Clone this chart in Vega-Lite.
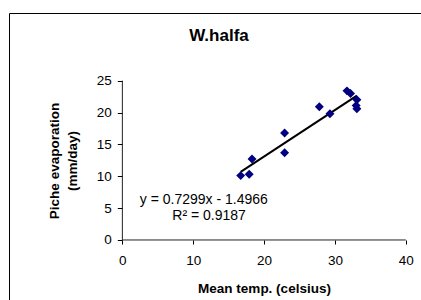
{
  "$schema": "https://vega.github.io/schema/vega-lite/v6.json",
  "width": 412,
  "height": 287,
  "autosize": {"type": "none"},
  "padding": {"left": 9, "top": 13, "right": 0, "bottom": 0},
  "background": "white",
  "config": {"font": "Liberation Sans", "view": {"stroke": "black", "strokeWidth": 1}},
  "title": {"text": "W.halfa", "fontSize": 17, "fontWeight": "bold", "anchor": "middle", "frame": "group", "offset": -45, "baseline": "alphabetic", "dx": 4, "color": "black"},
  "datasets": {
    "obs": [
      {"temp": 16.7, "evap": 10.1},
      {"temp": 17.9, "evap": 10.3},
      {"temp": 18.3, "evap": 12.7},
      {"temp": 22.9, "evap": 16.8},
      {"temp": 22.9, "evap": 13.7},
      {"temp": 27.8, "evap": 20.9},
      {"temp": 29.3, "evap": 19.8},
      {"temp": 31.7, "evap": 23.4},
      {"temp": 32.2, "evap": 23.0},
      {"temp": 33.1, "evap": 22.0},
      {"temp": 33.0, "evap": 21.1},
      {"temp": 33.1, "evap": 20.6}
    ],
    "trend": [
      {"temp": 16.7, "evap": 10.7},
      {"temp": 33.1, "evap": 22.66}
    ]
  },
  "layer": [
    {
      "data": {"values": [{}]},
      "mark": {"type": "rule", "color": "#222222", "strokeWidth": 1},
      "encoding": {
        "x": {"datum": 0, "type": "quantitative", "scale": {"domain": [-16, 42.15], "nice": false, "zero": false}},
        "y": {"datum": 0, "type": "quantitative", "scale": {"domain": [-9.42, 35.62], "nice": false, "zero": false}},
        "y2": {"datum": 25}
      }
    },
    {
      "data": {"values": [{}]},
      "mark": {"type": "rule", "color": "#222222", "strokeWidth": 1},
      "encoding": {
        "x": {"datum": 0, "type": "quantitative"},
        "x2": {"datum": 40},
        "y": {"datum": 0, "type": "quantitative"}
      }
    },
    {
      "data": {"name": "trend"},
      "mark": {"type": "line", "color": "black", "strokeWidth": 2},
      "encoding": {
        "x": {"field": "temp", "type": "quantitative"},
        "y": {"field": "evap", "type": "quantitative"}
      }
    },
    {
      "data": {"name": "obs"},
      "mark": {"type": "point", "shape": "diamond", "filled": true, "color": "#000080", "size": 80, "opacity": 1},
      "encoding": {
        "x": {
          "field": "temp", "type": "quantitative",
          "scale": {"domain": [-16, 42.15], "nice": false, "zero": false},
          "axis": {"orient": "bottom", "offset": -60, "values": [0, 10, 20, 30, 40], "domain": false, "grid": false, "tickSize": 4, "tickColor": "black", "labelColor": "black", "labelFontSize": 13.5, "labelPadding": 9, "labelFlush": false, "title": "Mean temp. (celsius)", "titleFontSize": 13.5, "titleFontWeight": "bold", "titleColor": "black", "titleX": 255, "titleY": 52, "titleBaseline": "alphabetic", "titleAlign": "center"}
        },
        "y": {
          "field": "evap", "type": "quantitative",
          "scale": {"domain": [-9.42, 35.62], "nice": false, "zero": false},
          "axis": {"orient": "left", "offset": -113.3, "values": [0, 5, 10, 15, 20, 25], "domain": false, "grid": false, "tickSize": 5, "tickColor": "black", "labelColor": "black", "labelFontSize": 13.5, "labelPadding": 6, "title": ["Piche evaporation", "(mm/day)"], "titleFontSize": 13.5, "titleFontWeight": "bold", "titleColor": "black", "titleAngle": -90, "titleBaseline": "middle", "titleAlign": "center", "titleX": -68.3, "titleY": 147.5, "titleLineHeight": 18}
        }
      }
    },
    {
      "data": {"values": [{}]},
      "mark": {"type": "text", "fontSize": 14, "align": "center", "baseline": "middle", "color": "black"},
      "encoding": {
        "x": {"datum": 11.49, "type": "quantitative"},
        "y": {"datum": 6.28, "type": "quantitative"},
        "text": {"value": "y = 0.7299x - 1.4966"}
      }
    },
    {
      "data": {"values": [{}]},
      "mark": {"type": "text", "fontSize": 14, "align": "center", "baseline": "middle", "color": "black"},
      "encoding": {
        "x": {"datum": 12.24, "type": "quantitative"},
        "y": {"datum": 3.77, "type": "quantitative"},
        "text": {"value": "R² = 0.9187"}
      }
    }
  ]
}
